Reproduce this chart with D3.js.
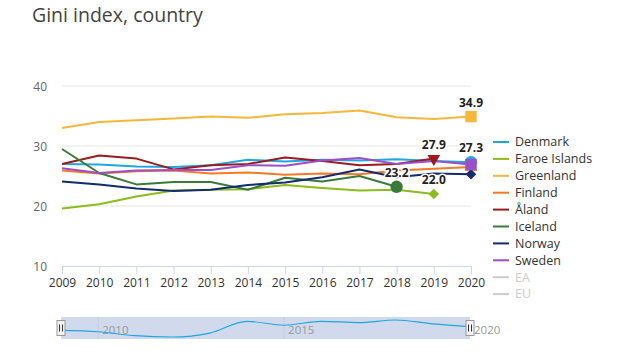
<!DOCTYPE html>
<html><head><meta charset="utf-8">
<script src="https://cdn.jsdelivr.net/npm/d3@7"></script>
<style>body{margin:0;background:#fff;font-family:"Open Sans","DejaVu Sans",sans-serif;}</style>
</head><body><svg id="c" width="633" height="360"></svg>
<script>
const years = [2009,2010,2011,2012,2013,2014,2015,2016,2017,2018,2019,2020];
const yTicks = [10,20,30,40];
const denmark = [27.0,26.9,26.6,26.5,26.8,27.7,27.4,27.7,27.6,27.8,27.5,27.3];
const faroe   = [19.6,20.3,21.6,22.6,22.7,22.8,23.5,23.0,22.6,22.7,22.0,null];
const greenland=[33.0,34.0,34.3,34.6,34.9,34.7,35.3,35.5,35.9,34.8,34.5,34.9];
const finland = [25.9,25.4,25.8,25.9,25.4,25.6,25.2,25.4,25.3,25.9,26.2,26.5];
const aland   = [27.0,28.4,27.9,26.1,26.8,27.0,28.1,27.5,26.8,27.0,27.9,null];
const iceland = [29.5,25.5,23.6,24.0,24.0,22.7,24.7,24.1,25.0,23.2,null,null];
const norway  = [24.1,23.6,22.9,22.5,22.7,23.5,23.9,24.8,26.1,24.8,25.4,25.3];
const sweden  = [26.3,25.5,25.9,26.0,26.0,26.8,26.7,27.6,28.0,27.0,27.5,26.9];
const seriesNames = ["Denmark","Faroe Islands","Greenland","Finland","Åland","Iceland","Norway","Sweden","EA","EU"];
const seriesValues = [denmark,faroe,greenland,finland,aland,iceland,norway,sweden,null,null];
const colors = ["#1ea7e1","#8cbd1c","#f6b73c","#f77a24","#9b1b1f","#3a7b3a","#142b6d","#9b50c8","#cccccc","#cccccc"];
const markers = ["circle","diamond","square","triangle","triangleDown","circle","diamond","square",null,null];
const labelled = {"Greenland":true,"Åland":true,"Denmark":true,"Iceland":true,"Faroe Islands":true};

const svg = d3.select("#c");
const x = d3.scaleLinear().domain([2009,2020]).range([62,471]);
const y = d3.scaleLinear().domain([10,40]).range([266,86]);

svg.append("text").attr("x",32).attr("y",22).attr("font-size",19.5).attr("fill","#444").text("Gini index, country");

svg.append("g").selectAll("line").data(yTicks.filter(d=>d>10)).join("line")
  .attr("x1",62).attr("x2",471).attr("y1",d=>y(d)).attr("y2",d=>y(d))
  .attr("stroke","#e6e6e6");
const ya = svg.append("g").attr("transform","translate(47,0)")
  .call(d3.axisLeft(y).tickValues(yTicks).tickSize(0).tickPadding(0));
ya.select(".domain").remove();
ya.selectAll("text").attr("font-size",12).attr("fill","#666").attr("font-family","Open Sans, DejaVu Sans, sans-serif").attr("dy","0.35em");

const xa = svg.append("g").attr("transform","translate(0,266)")
  .call(d3.axisBottom(x).tickValues(years).tickFormat(d3.format("d")).tickSize(8).tickSizeOuter(0).tickPadding(4));
xa.select(".domain").attr("stroke","#ccd6eb");
xa.selectAll(".tick line").attr("stroke","#ccd6eb");
xa.selectAll("text").attr("font-size",12).attr("fill","#333").attr("font-family","Open Sans, DejaVu Sans, sans-serif");

const line = d3.line().defined(d=>d.v!=null).x(d=>x(d.yr)).y(d=>y(d.v));
const series = seriesNames.map((n,i)=>({name:n,color:colors[i],marker:markers[i],
  pts: seriesValues[i] ? years.map((yr,j)=>({yr,v:seriesValues[i][j]})) : null}));

const g = svg.append("g");
series.filter(s=>s.pts).forEach(s=>{
  g.append("path").datum(s.pts).attr("d",line).attr("fill","none").attr("stroke",s.color).attr("stroke-width",2).attr("stroke-linejoin","round");
});
const symType = {circle:d3.symbolCircle,diamond:d3.symbolSquare,square:d3.symbolSquare,triangle:d3.symbolTriangle,triangleDown:d3.symbolTriangle};
const symSize = {circle:120,diamond:55,square:130,triangle:70,triangleDown:70};
series.filter(s=>s.pts).forEach(s=>{
  const last = s.pts.filter(p=>p.v!=null).slice(-1)[0];
  const sym = d3.symbol().type(symType[s.marker]).size(symSize[s.marker]);
  const rot = s.marker==="triangleDown"?" rotate(180)":s.marker==="diamond"?" rotate(45)":"";
  g.append("path").attr("d",sym()).attr("fill",s.color)
    .attr("transform",`translate(${x(last.yr)},${y(last.v)})${rot}`);
});
series.filter(s=>s.pts && labelled[s.name]).forEach(s=>{
  const last = s.pts.filter(p=>p.v!=null).slice(-1)[0];
  g.append("text").attr("x",x(last.yr)).attr("y",y(last.v)-10).attr("text-anchor","middle")
    .attr("font-size",12).attr("font-weight","bold").attr("fill","#222")
    .attr("stroke","#fff").attr("stroke-width",3).attr("paint-order","stroke").attr("stroke-linejoin","round")
    .text(d3.format(".1f")(last.v));
});

const lg = svg.append("g").attr("transform","translate(493,142)");
seriesNames.forEach((n,i)=>{
  const it = lg.append("g").attr("transform",`translate(0,${i*16.9})`);
  it.append("line").attr("x1",0).attr("x2",16).attr("y1",0).attr("y2",0).attr("stroke",colors[i]).attr("stroke-width",2);
  it.append("text").attr("x",22).attr("y",0).attr("dy","0.35em").attr("font-size",12.5)
    .attr("fill", i>=8?"#cccccc":"#333").text(n);
});

const nx = d3.scaleLinear().domain([2009,2020]).range([61,470]);
const ny = d3.scaleLinear().domain(d3.extent(denmark)).range([337,320]);
const nav = svg.append("g");
nav.append("rect").attr("x",61).attr("y",317).attr("width",409).attr("height",22).attr("fill","rgba(102,133,194,0.3)");
[2010,2015].forEach(yr=>{
  nav.append("line").attr("x1",nx(yr)).attr("x2",nx(yr)).attr("y1",317).attr("y2",339).attr("stroke","#c4cde0").attr("stroke-width",1);
});
[2010,2015,2020].forEach(yr=>{
  nav.append("text").attr("x",nx(yr)+4).attr("y",334).attr("font-size",11.5).attr("fill","#999").text(yr);
});
nav.append("path").datum(years.map((yr,j)=>({yr,v:denmark[j]})))
  .attr("d",d3.line().x(d=>nx(d.yr)).y(d=>ny(d.v)).curve(d3.curveMonotoneX))
  .attr("fill","none").attr("stroke","#1ea7e1").attr("stroke-width",1.2);
[61,470].forEach(hx=>{
  const h = nav.append("g").attr("transform",`translate(${hx},328)`);
  h.append("rect").attr("x",-4).attr("y",-7.5).attr("width",8).attr("height",15).attr("fill","#f2f2f2").attr("stroke","#999").attr("stroke-width",1);
  h.append("line").attr("x1",-1.5).attr("x2",-1.5).attr("y1",-3.5).attr("y2",3.5).attr("stroke","#333");
  h.append("line").attr("x1",1.5).attr("x2",1.5).attr("y1",-3.5).attr("y2",3.5).attr("stroke","#333");
});
</script></body></html>
